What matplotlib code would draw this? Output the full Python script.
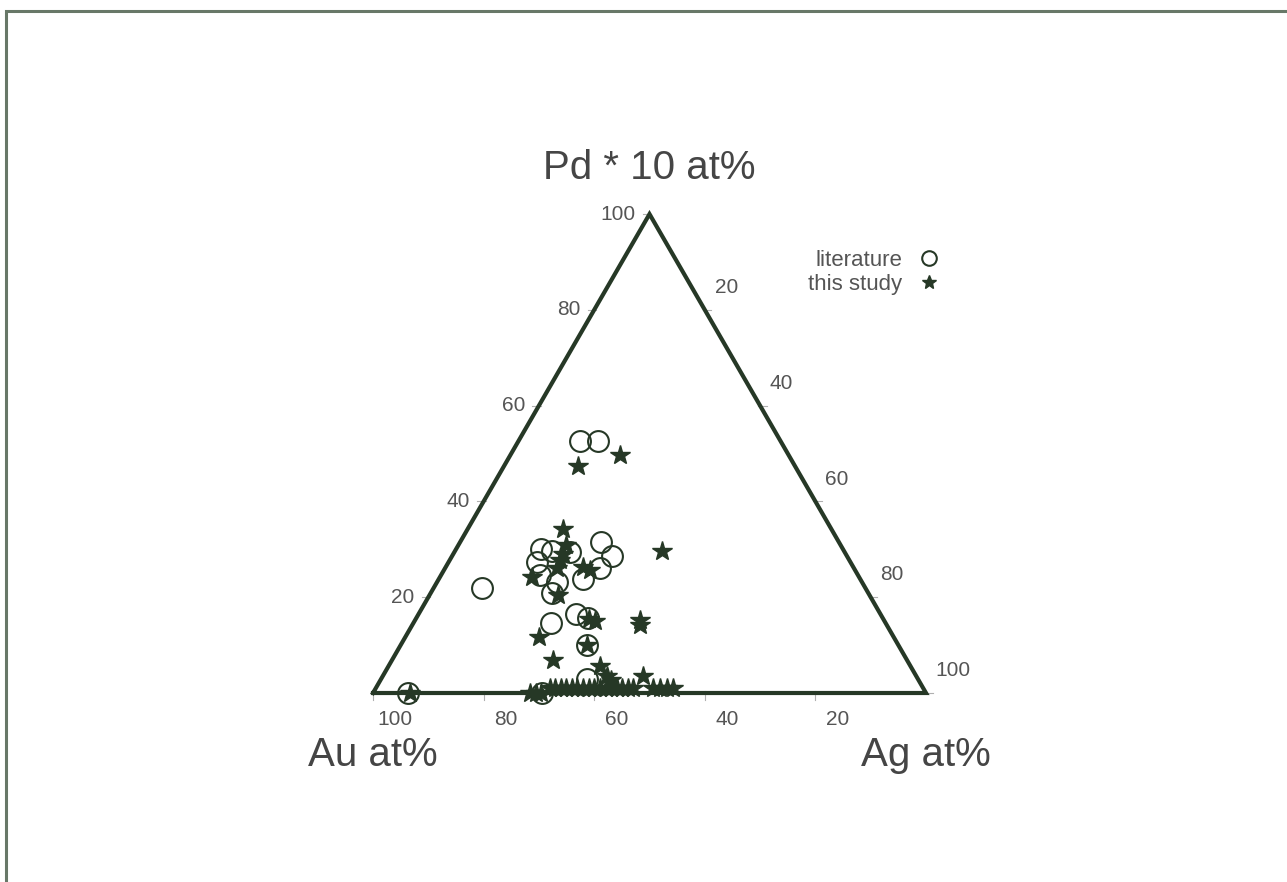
import numpy as np
import matplotlib
matplotlib.use("Agg")
import matplotlib.pyplot as plt
from matplotlib.patches import Rectangle

plt.rcParams['font.family'] = ['Liberation Sans', 'DejaVu Sans']

# compositions in at%, Pd already multiplied by 10 and renormalised
lit_au = [93.7, 69.4, 36.3, 33.0, 69.3, 54.6, 56.7, 52.8, 49.6, 43.0, 42.4,
          46.0, 50.2, 55.2, 57.2, 57.5, 60.5, 55.0, 53.3, 56.3, 59.8]
lit_ag = [6.3, 30.6, 11.1, 14.4, 8.7, 15.3, 15.9, 17.5, 20.9, 25.4, 28.9,
          28.0, 26.1, 21.7, 22.0, 17.8, 24.9, 28.4, 31.1, 33.7, 37.3]
lit_pd10 = [0.0, 0.0, 52.6, 52.6, 22.0, 30.1, 27.4, 29.7, 29.5, 31.6, 28.7,
            26.0, 23.7, 23.1, 20.8, 24.7, 14.6, 16.6, 15.6, 10.0, 2.9]

our_au = [39.2, 30.5, 48.5, 49.7, 51.1, 52.3, 53.6, 59.1, 56.3, 48.8, 47.9,
          32.9, 44.1, 44.7, 53.2, 52.3, 56.3, 64.2, 64.0, 56.2, 56.0, 55.6,
          49.4, 93.3,
          71.6, 70.5, 69.6, 67.5, 66.5, 65.5, 64.6, 63.6, 62.7, 61.6, 60.5,
          59.6, 58.5, 57.4, 56.5, 55.4, 54.5, 53.4, 52.5, 48.9, 47.6, 46.4, 45.3]
our_ag = [13.4, 19.8, 17.2, 19.5, 19.8, 20.0, 20.2, 16.6, 23.3, 24.8, 26.5,
          37.4, 40.7, 41.2, 31.4, 32.7, 33.7, 24.2, 29.1, 38.2, 40.5, 41.7,
          47.1, 6.7,
          28.4, 29.5, 30.4, 31.5, 32.5, 33.5, 34.4, 35.4, 36.3, 37.4, 38.5,
          39.4, 40.5, 41.6, 42.5, 43.6, 44.5, 45.6, 46.5, 50.1, 51.4, 52.6, 53.7]
our_pd10 = [47.4, 49.7, 34.3, 30.8, 29.1, 27.7, 26.2, 24.3, 20.4, 26.4, 25.6,
            29.7, 15.2, 14.1, 15.4, 15.0, 10.0, 11.6, 6.9, 5.6, 3.5, 2.7,
            3.5, 0.0,
            0.0, 0.0, 0.0, 1.0, 1.0, 1.0, 1.0, 1.0, 1.0, 1.0, 1.0,
            1.0, 1.0, 1.0, 1.0, 1.0, 1.0, 1.0, 1.0, 1.0, 1.0, 1.0, 1.0]

ticks = [20, 40, 60, 80, 100]

line_col = '#263826'
text_col = '#555555'


def tern(au, ag, pd):
    au, ag, pd = np.asarray(au, float), np.asarray(ag, float), np.asarray(pd, float)
    s = au + ag + pd
    x = (ag + pd / 2) / s
    y = pd / s * np.sqrt(3) / 2
    return x, y


fig = plt.figure(figsize=(12.87, 8.82), dpi=100)
ax = fig.add_axes([0, 0, 1, 1])
u = 553.0
ax.set_xlim(-373 / u, (1287 - 373) / u)
ax.set_ylim(-189 / u, 693 / u)
ax.axis('off')

# frame round the figure
fig.patches.append(Rectangle((6 / 1287, -0.1), 1.2, 1.1 - 11 / 882, transform=fig.transFigure,
                             fill=False, edgecolor='#687868', linewidth=2.2))

# triangle
cx, cy = tern([100, 0, 0, 100], [0, 100, 0, 0], [0, 0, 100, 0])
ax.plot(cx, cy, color=line_col, lw=3.0, solid_joinstyle='miter', zorder=3)

# ticks and labels
tk = 0.012
for t in ticks:
    f = t / 100
    # left edge: Pd
    x, y = tern(1 - f, 0, f)
    ax.plot([x - tk, x + tk * 0.3], [y, y], color='#b0b0b0', lw=0.8, zorder=2)
    ax.annotate(str(t), (x, y), xytext=(-10, 0), textcoords='offset points',
                ha='right', va='center', fontsize=15, color=text_col)
    # right edge: Ag
    x, y = tern(0, f, 1 - f)
    ax.plot([x - tk * 0.3, x + tk], [y, y], color='#b0b0b0', lw=0.8, zorder=2)
    ax.annotate(str(t), (x, y), xytext=(7, 16), textcoords='offset points',
                ha='left', va='center', fontsize=15, color=text_col)
    # bottom edge: Au
    x, y = tern(f, 1 - f, 0)
    ax.plot([x, x], [y - tk, y + tk * 0.3], color='#b0b0b0', lw=0.8, zorder=2)
    ax.annotate(str(t), (x, y), xytext=(16, -19), textcoords='offset points',
                ha='center', va='center', fontsize=15, color=text_col)

ax.text(0.5, 0.950, 'Pd * 10 at%', ha='center', va='center',
        fontsize=29, color='#454545')
ax.text(0.0, -0.112, 'Au at%', ha='center', va='center', fontsize=29, color='#454545')
ax.text(1.0, -0.112, 'Ag at%', ha='center', va='center', fontsize=29, color='#454545')

lx, ly = tern(lit_au, lit_ag, lit_pd10)
ax.plot(lx, ly, 'o', ms=15, mfc='none', mec=line_col, mew=1.5, ls='none',
        zorder=4, label='literature')
ox, oy = tern(our_au, our_ag, our_pd10)
ax.plot(ox, oy, '*', ms=15, color=line_col, ls='none', zorder=5, label='this study')

leg = ax.legend(loc='upper left', bbox_to_anchor=(0.619, 0.729), frameon=False,
                markerfirst=False, fontsize=16, markerscale=0.7, handlelength=1.0,
                handletextpad=0.7, labelspacing=0.12, borderpad=0)
for t in leg.get_texts():
    t.set_color(text_col)

fig.savefig('out.png', dpi=100)
